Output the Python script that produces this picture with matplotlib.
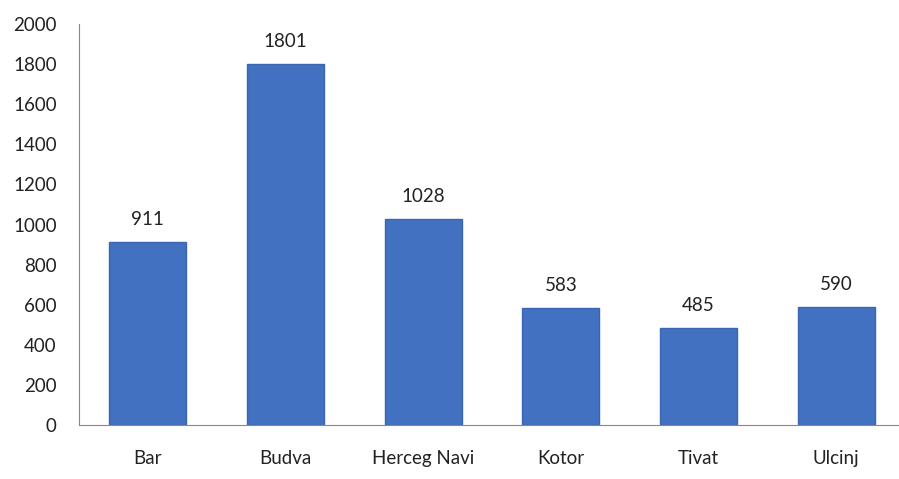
import matplotlib
matplotlib.use("Agg")
from matplotlib import pyplot as plt

# data
towns = ["Bar", "Budva", "Herceg Navi", "Kotor", "Tivat", "Ulcinj"]
counts = [911, 1801, 1028, 583, 485, 590]
yticks = [0, 200, 400, 600, 800, 1000, 1200, 1400, 1600, 1800, 2000]

plt.rcParams['font.family'] = ['Lato', 'DejaVu Sans']

W, H = 899, 479
fig = plt.figure(figsize=(W / 100, H / 100), dpi=100)
left, right, top, bottom = 79, 905, 24, 425
ax = fig.add_axes([left / W, 1 - bottom / H, (right - left) / W, (bottom - top) / H])

x = list(range(len(towns)))
bars = ax.bar(x, counts, width=0.56, color="#4171c0", edgecolor="#3a66b0", linewidth=1.0)

for xi, v in zip(x, counts):
	ax.annotate(str(v), (xi, v), xytext=(0, 10), textcoords="offset points",
				ha="center", va="bottom", fontsize=13.5, color="#222222")

ax.set_xlim(-0.5, len(towns) - 0.5)
ax.set_ylim(0, 2000)
ax.set_yticks(yticks)
ax.set_xticks(x)
ax.set_xticklabels(towns)
ax.tick_params(axis="both", length=0, labelsize=13.5, colors="#222222")
ax.tick_params(axis="x", pad=18)
ax.tick_params(axis="y", pad=16)

for s in ["top", "right"]:
	ax.spines[s].set_visible(False)
ax.spines["left"].set_color("#888888")
ax.spines["bottom"].set_color("#888888")

fig.savefig("out.png", dpi=100)
